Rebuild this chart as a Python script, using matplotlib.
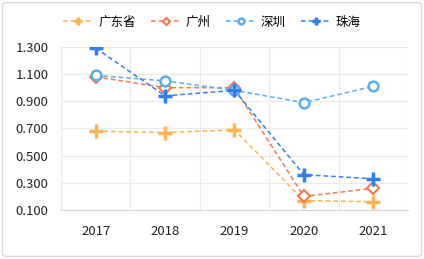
import numpy as np
import matplotlib.pyplot as plt
from matplotlib.patches import FancyBboxPatch

plt.rcParams['font.family'] = ['Noto Sans CJK SC', 'DejaVu Sans']

years = ['2017', '2018', '2019', '2020', '2021']
guangdong = [0.68, 0.67, 0.69, 0.17, 0.16]
guangzhou = [1.08, 1.00, 1.00, 0.20, 0.26]
shenzhen = [1.09, 1.05, 0.98, 0.89, 1.01]
zhuhai = [1.29, 0.94, 0.98, 0.36, 0.33]

fig = plt.figure(figsize=(4.24, 2.59), dpi=100)
fig.patches.append(FancyBboxPatch((0.006, 0.01), 0.988, 0.98, boxstyle='round,pad=0,rounding_size=0.01',
                                  transform=fig.transFigure, facecolor='white', edgecolor='#d9d9d9',
                                  lw=1, zorder=-10))
ax = fig.add_axes([0.144, 0.189, 0.818, 0.630])
ax.patch.set_alpha(0)
x = np.arange(len(years))

dash = (3, 2)
ax.plot(x, guangdong, ls='--', dashes=dash, color='#fbb24f', lw=1.1, marker='+', ms=10, mew=2.5, label='广东省')
ax.plot(x, guangzhou, ls='--', dashes=dash, color='#f7784a', lw=1.1, marker='D', ms=6, mew=1.5, mfc='white', label='广州')
ax.plot(x, shenzhen, ls='--', dashes=dash, color='#58aef0', lw=1.1, marker='o', ms=7, mew=1.8, mfc='white', label='深圳')
ax.plot(x, zhuhai, ls='--', dashes=dash, color='#2f7fef', lw=1.1, marker='+', ms=10, mew=2.5, label='珠海')

ax.set_xlim(-0.5, 4.5)
ax.set_ylim(0.1, 1.3)
ax.set_xticks(x)
ax.set_xticklabels(years)
ax.set_yticks(np.arange(0.1, 1.31, 0.2))
ax.set_yticklabels(['%.3f' % v for v in np.arange(0.1, 1.31, 0.2)])
ax.set_xticks(np.arange(-0.5, 4.6, 1), minor=True)
ax.grid(True, axis='y', color='#eaeaea', lw=0.8)
ax.grid(True, axis='x', which='minor', color='#eaeaea', lw=0.8)
ax.tick_params(which='both', length=0, labelsize=9.5, colors='#222222')
ax.tick_params(axis='x', pad=11)
ax.tick_params(axis='y', pad=9)
for s in ['top', 'right', 'left']:
    ax.spines[s].set_visible(False)
ax.spines['bottom'].set_color('#d6d6d6')

fig.legend(loc='center', bbox_to_anchor=(0.5, 0.915), ncol=4, frameon=False, fontsize=9,
           handlelength=2.4, handletextpad=0.4, columnspacing=1.2, markerscale=0.6)

fig.savefig('out.png', dpi=100)
